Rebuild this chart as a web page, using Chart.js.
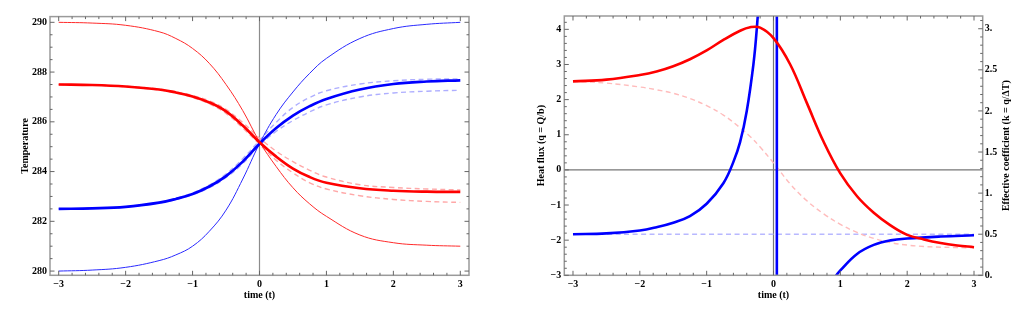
<!DOCTYPE html>
<html>
<head>
<meta charset="utf-8">
<script src="https://cdn.jsdelivr.net/npm/chart.js@4.4.1/dist/chart.umd.min.js"></script>
<style>
    html, body { margin: 0; padding: 0; background: #fff; }
    #wrap { position: relative; width: 1024px; height: 314px; }
    canvas { position: absolute; top: 0; }
    #chartTemp { left: 0; }
    #chartFlux { left: 512px; }
</style>
</head>
<body>
<div id="wrap">
    <canvas id="chartTemp" width="512" height="314"></canvas>
    <canvas id="chartFlux" width="512" height="314"></canvas>
</div>
<script>
// TIME GRID (left panel)
var times = [-3, -2.5, -2, -1.5, -1.25, -1, -0.75, -0.5, -0.25, 0, 0.25, 0.5, 0.75, 1, 1.5, 2, 2.5, 3];

// TEMPERATURE CURVES
var redThin   = [290.0, 289.97, 289.88, 289.62, 289.35, 288.95, 288.35, 287.5, 286.45, 285.2, 284.2, 283.35, 282.7, 282.2, 281.45, 281.14, 281.04, 281.0];
var blueThin  = [280.0, 280.04, 280.15, 280.42, 280.65, 281.0, 281.6, 282.45, 283.7, 285.12, 286.3, 287.2, 287.95, 288.55, 289.35, 289.75, 289.92, 290.0];
var redThick  = [287.5, 287.48, 287.42, 287.3, 287.18, 287.02, 286.78, 286.42, 285.85, 285.18, 284.6, 284.12, 283.78, 283.55, 283.33, 283.23, 283.19, 283.18];
var blueThick = [282.5, 282.52, 282.58, 282.75, 282.9, 283.1, 283.4, 283.82, 284.4, 285.12, 285.75, 286.25, 286.63, 286.92, 287.3, 287.52, 287.62, 287.67];
var redUpper  = [287.5, 287.48, 287.43, 287.32, 287.2, 287.06, 286.84, 286.5, 285.97, 285.35, 284.82, 284.4, 284.05, 283.78, 283.47, 283.36, 283.3, 283.26];
var redLower  = [287.5, 287.48, 287.41, 287.28, 287.16, 286.98, 286.72, 286.34, 285.75, 285.1, 284.45, 283.95, 283.55, 283.3, 283.03, 282.88, 282.8, 282.76];
var blueUpper = [282.5, 282.52, 282.58, 282.76, 282.92, 283.14, 283.46, 283.9, 284.52, 285.25, 285.98, 286.58, 286.98, 287.25, 287.52, 287.65, 287.71, 287.73];
var blueLower = [282.5, 282.52, 282.58, 282.74, 282.88, 283.07, 283.35, 283.76, 284.32, 285.05, 285.62, 286.05, 286.4, 286.68, 287.0, 287.16, 287.23, 287.27];

// HEAT FLUX (right panel, left axis)
var fluxTimes  = [-3, -2.5, -2, -1.75, -1.5, -1.25, -1, -0.75, -0.5, -0.35, -0.2, 0, 0.25, 0.5, 0.75, 1, 1.25, 1.5, 1.75, 2, 2.25, 2.5, 2.75, 3];
var fluxThick  = [2.52, 2.57, 2.7, 2.8, 2.95, 3.15, 3.4, 3.7, 3.96, 4.06, 4.05, 3.75, 3.0, 1.9, 0.8, -0.1, -0.75, -1.22, -1.58, -1.85, -1.98, -2.08, -2.15, -2.2];
var fluxDashed = [2.52, 2.47, 2.36, 2.28, 2.18, 2.03, 1.83, 1.56, 1.2, 0.95, 0.65, 0.2, -0.4, -0.88, -1.25, -1.55, -1.78, -1.95, -2.07, -2.14, -2.18, -2.2, -2.21, -2.22];

// EFFECTIVE COEFFICIENT (right panel, right axis)
var coefTimesLeft  = [-3, -2.5, -2, -1.75, -1.5, -1.25, -1, -0.75, -0.6, -0.5, -0.4, -0.3, -0.25, -0.2, -0.15];
var coefLeft       = [0.5, 0.51, 0.545, 0.585, 0.64, 0.72, 0.87, 1.12, 1.38, 1.62, 2.0, 2.57, 3.0, 3.6, 4.5];
var coefTimesRight = [0.85, 0.94, 1, 1.25, 1.5, 1.75, 2, 2.5, 3];
var coefRight      = [-0.1, 0, 0.06, 0.26, 0.37, 0.425, 0.448, 0.472, 0.487];
var coefJumpTime   = 0.05;
var coefLimit      = 0.5;

// TICKS
var timeTicks  = [-3, -2, -1, 0, 1, 2, 3];
var timeLabels = ['\u22123', '\u22122', '\u22121', '0', '1', '2', '3'];
var tempTicks  = [280, 282, 284, 286, 288, 290];
var fluxTicks  = [-3, -2, -1, 0, 1, 2, 3, 4];
var fluxLabels = ['\u22123', '\u22122', '\u22121', '0', '1', '2', '3', '4'];
var coefTicks  = [0, 0.5, 1, 1.5, 2, 2.5, 3];
var coefLabels = ['0.', '0.5', '1.', '1.5', '2.', '2.5', '3.'];

Chart.defaults.font.family = '"Liberation Serif", "Times New Roman", serif';
Chart.defaults.font.weight = 'bold';
Chart.defaults.font.size = 10;
Chart.defaults.color = '#000';
Chart.defaults.elements.line.capBezierPoints = false;

function points(ts, vs) {
    return ts.map(function (t, i) { return {x: t, y: vs[i]}; });
}

function line(data, color, width, dash, axis) {
    return {
        data: data,
        borderColor: color,
        borderWidth: width,
        borderDash: dash || [],
        pointRadius: 0,
        fill: false,
        tension: 0.4,
        yAxisID: axis || 'y'
    };
}

function fixedTicks(values) {
    return function (scale) {
        scale.ticks = values.map(function (v) { return {value: v}; });
    };
}

function drawTicks(ctx, scale, side, step, major, area) {
    var n0 = Math.ceil(scale.min / step - 1e-9);
    var n1 = Math.floor(scale.max / step + 1e-9);
    for (var i = n0; i <= n1; i++) {
        var v = i * step;
        var isMajor = Math.abs(v / major - Math.round(v / major)) < 1e-6;
        var len = isMajor ? 4.5 : 2.5;
        var p = scale.getPixelForValue(v);
        ctx.beginPath();
        if (side === 'bottom') { ctx.moveTo(p, area.bottom); ctx.lineTo(p, area.bottom - len); }
        if (side === 'top') { ctx.moveTo(p, area.top); ctx.lineTo(p, area.top + len); }
        if (side === 'left') { ctx.moveTo(area.left, p); ctx.lineTo(area.left + len, p); }
        if (side === 'right') { ctx.moveTo(area.right, p); ctx.lineTo(area.right - len, p); }
        ctx.stroke();
    }
}

// FRAME, ZERO LINES AND INWARD TICKS
var framePlugin = {
    id: 'frame',
    beforeDatasetsDraw: function (chart, args, opts) {
        var ctx = chart.ctx, a = chart.chartArea;
        ctx.save();
        ctx.strokeStyle = opts.zeroColor;
        ctx.lineWidth = 1.2;
        var x0 = chart.scales.x.getPixelForValue(0);
        ctx.beginPath();
        ctx.moveTo(x0, a.top);
        ctx.lineTo(x0, a.bottom);
        if (opts.zeroY) {
            var y0 = chart.scales[opts.zeroY].getPixelForValue(0);
            ctx.moveTo(a.left, y0);
            ctx.lineTo(a.right, y0);
        }
        ctx.stroke();
        ctx.restore();
    },
    afterDraw: function (chart, args, opts) {
        var ctx = chart.ctx, a = chart.chartArea;
        ctx.save();
        ctx.strokeStyle = '#9a9a9a';
        ctx.lineWidth = 1.5;
        ctx.strokeRect(a.left, a.top, a.right - a.left, a.bottom - a.top);
        ctx.strokeStyle = '#666';
        ctx.lineWidth = 1;
        drawTicks(ctx, chart.scales.x, 'bottom', 0.2, 1, a);
        drawTicks(ctx, chart.scales.x, 'top', 0.2, 1, a);
        drawTicks(ctx, chart.scales[opts.left.id], 'left', opts.left.step, opts.left.major, a);
        drawTicks(ctx, chart.scales[opts.right.id], 'right', opts.right.step, opts.right.major, a);
        if (opts.rightTitle) {
            ctx.fillStyle = '#000';
            ctx.font = 'bold 10px "Liberation Serif", serif';
            ctx.textAlign = 'center';
            ctx.textBaseline = 'middle';
            ctx.translate(opts.rightTitleX, (a.top + a.bottom) / 2);
            ctx.rotate(-Math.PI / 2);
            ctx.fillText(opts.rightTitle, 0, 0);
        }
        ctx.restore();
    }
};

function timeAxis() {
    return {
        type: 'linear',
        min: -3.13,
        max: 3.13,
        grid: {display: false, drawTicks: false},
        border: {display: false},
        afterBuildTicks: fixedTicks(timeTicks),
        afterFit: function (scale) { scale.height = 38.7; },
        ticks: {
            padding: 3,
            autoSkip: false,
            maxRotation: 0,
            callback: function (v, i) { return timeLabels[i]; }
        },
        title: {display: true, text: 'time (t)', padding: {top: 0, bottom: 12.3}}
    };
}

// LEFT CHART - TEMPERATURE
function tempChart() {
    var ctx = document.getElementById('chartTemp').getContext('2d');
    return new Chart(ctx, {
        type: 'line',
        data: {
            datasets: [
                line(points(times, redThick), '#ff0000', 2.7),
                line(points(times, blueThick), '#0000ff', 2.7),
                line(points(times, redThin), '#ff2a2a', 1),
                line(points(times, blueThin), '#2a2aff', 1),
                line(points(times, redUpper), '#ffa8a8', 1.4, [5, 3.5]),
                line(points(times, redLower), '#ffa8a8', 1.4, [5, 3.5]),
                line(points(times, blueUpper), '#aeaeff', 1.4, [5, 3.5]),
                line(points(times, blueLower), '#aeaeff', 1.4, [5, 3.5])
            ]
        },
        options: {
            responsive: false,
            animation: false,
            layout: {padding: {left: 0, right: 43, top: 16.6, bottom: 0}},
            scales: {
                x: timeAxis(),
                y: {
                    type: 'linear',
                    min: 279.83,
                    max: 290.23,
                    grid: {display: false, drawTicks: false},
                    border: {display: false},
                    afterBuildTicks: fixedTicks(tempTicks),
                    afterFit: function (scale) { scale.width = 50; },
                    ticks: {padding: 3, autoSkip: false},
                    title: {display: true, text: 'Temperature', padding: {top: 19, bottom: 0}}
                }
            },
            plugins: {
                legend: {display: false},
                tooltip: {enabled: false},
                frame: {
                    zeroColor: '#8c8c8c',
                    zeroY: null,
                    left: {id: 'y', step: 0.5, major: 2},
                    right: {id: 'y', step: 0.5, major: 2}
                }
            }
        },
        plugins: [framePlugin]
    });
}

// RIGHT CHART - HEAT FLUX AND COEFFICIENT
function fluxChart() {
    var ctx = document.getElementById('chartFlux').getContext('2d');
    var jump = line([{x: coefJumpTime, y: -5}, {x: coefJumpTime, y: 10}], '#0000ff', 2.6, null, 'k');
    jump.tension = 0;
    return new Chart(ctx, {
        type: 'line',
        data: {
            datasets: [
                line(points(fluxTimes, fluxThick), '#ff0000', 2.6),
                line(points(coefTimesLeft, coefLeft), '#0000ff', 2.6, null, 'k'),
                line(points(coefTimesRight, coefRight), '#0000ff', 2.6, null, 'k'),
                jump,
                line(points(fluxTimes, fluxDashed), '#ffbcbc', 1.4, [5, 3.5]),
                line(points([-3, 3], [coefLimit, coefLimit]), '#b8b8ff', 1.4, [5, 3.5], 'k')
            ]
        },
        options: {
            responsive: false,
            animation: false,
            layout: {padding: {left: 0, right: 0, top: 16, bottom: 0}},
            scales: {
                x: timeAxis(),
                y: {
                    type: 'linear',
                    position: 'left',
                    min: -3,
                    max: 4.38,
                    grid: {display: false, drawTicks: false},
                    border: {display: false},
                    afterBuildTicks: fixedTicks(fluxTicks),
                    afterFit: function (scale) { scale.width = 52.3; },
                    ticks: {
                        padding: 3,
                        autoSkip: false,
                        callback: function (v, i) { return fluxLabels[i]; }
                    },
                    title: {display: true, text: 'Heat flux (q = Q/b)', padding: {top: 23, bottom: 0}}
                },
                k: {
                    type: 'linear',
                    position: 'right',
                    min: 0,
                    max: 3.155,
                    grid: {display: false, drawTicks: false},
                    border: {display: false},
                    afterBuildTicks: fixedTicks(coefTicks),
                    afterFit: function (scale) { scale.width = 41.3; },
                    ticks: {
                        padding: 2,
                        autoSkip: false,
                        callback: function (v, i) { return coefLabels[i]; }
                    }
                }
            },
            plugins: {
                legend: {display: false},
                tooltip: {enabled: false},
                frame: {
                    zeroColor: '#777',
                    zeroY: 'y',
                    left: {id: 'y', step: 0.2, major: 1},
                    right: {id: 'k', step: 0.1, major: 0.5},
                    rightTitle: 'Effective coefficient (k = q/\u0394T)',
                    rightTitleX: 494
                }
            }
        },
        plugins: [framePlugin]
    });
}

tempChart();
fluxChart();
</script>
</body>
</html>
